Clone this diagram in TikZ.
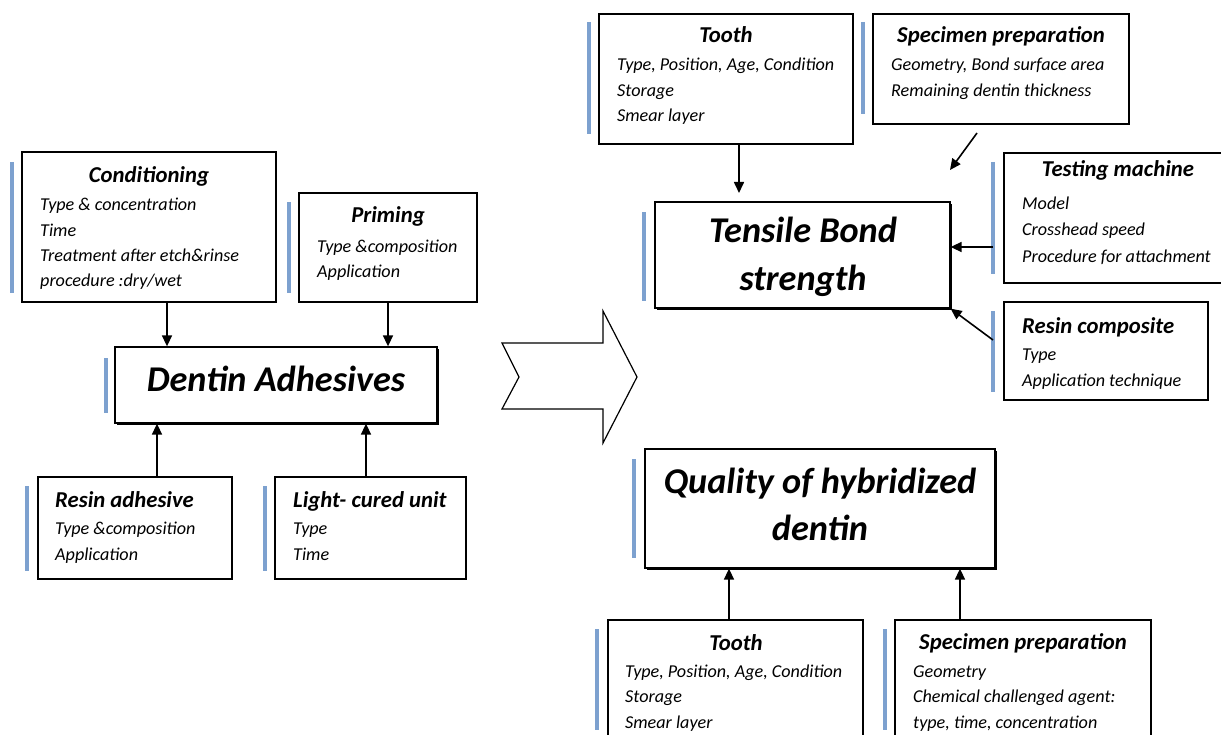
\documentclass[tikz,border=0pt]{standalone}
\usepackage{fontspec}
\setmainfont{Carlito}
\usetikzlibrary{arrows.meta,fit,shadows,calc}
\definecolor{barblue}{HTML}{7DA1CF}
\begin{document}
\begin{tikzpicture}[x=1bp,y=-1bp,
 box/.style={draw, line width=1.1bp, inner sep=0pt, fill=white},
 mainbox/.style={box, line width=1.3bp, drop shadow={shadow xshift=2bp, shadow yshift=-2bp, fill=black, opacity=1}},
 hdr/.style={inner sep=0pt, font=\fontsize{22.8}{27}\selectfont\bfseries\itshape},
 body/.style={inner sep=0pt, font=\fontsize{18.2}{22}\selectfont\itshape},
 ttl/.style={inner sep=0pt, font=\fontsize{36.4}{44}\selectfont\bfseries\itshape},
 bar/.style={draw=barblue, line width=3.5bp},
 arr/.style={line width=1.6bp, -{Triangle[length=11bp,width=10bp]}}]
\useasboundingbox (0,0) rectangle (1221,735);

% ---------------- left part ----------------
\node[box, fit={(22,152) (276,302)}] (cond) {};
\draw[bar] (12,162) -- (12,293);
\node[hdr, anchor=base] (cond-h) at (149,183) {Conditioning};
\foreach \t [count=\i] in {{Type \& concentration},Time,{Treatment after etch\&rinse},{procedure :dry/wet}}
  \node[body, anchor=base west] (cond-\i) at (40,{211+25.3*(\i-1)}) {\t};

\node[box, fit={(299,193) (477,302)}] (prim) {};
\draw[bar] (289,202) -- (289,293);
\node[hdr, anchor=base] (prim-h) at (388,223) {Priming};
\foreach \t [count=\i] in {{Type \&composition},Application}
  \node[body, anchor=base west] (prim-\i) at (317,{252+25.3*(\i-1)}) {\t};

\node[mainbox, fit={(115,347) (437,423)}] (dentin) {};
\draw[bar] (106,358) -- (106,413);
\node[ttl, anchor=base] (dentin-t) at (276,391) {Dentin Adhesives};

\node[box, fit={(38,477) (232,579)}] (resin) {};
\draw[bar] (27,486) -- (27,571);
\node[hdr, anchor=base west] (resin-h) at (55,507) {Resin adhesive};
\foreach \t [count=\i] in {{Type \&composition},Application}
  \node[body, anchor=base west] (resin-\i) at (55,{534+26*(\i-1)}) {\t};

\node[box, fit={(275,477) (466,579)}] (light) {};
\draw[bar] (265,486) -- (265,571);
\node[hdr, anchor=base west] (light-h) at (293,507) {Light- cured unit};
\foreach \t [count=\i] in {Type,Time}
  \node[body, anchor=base west] (light-\i) at (293,{534+26*(\i-1)}) {\t};

\coordinate (xa) at (167,0);
\coordinate (xb) at (388,0);
\coordinate (xc) at (157,0);
\coordinate (xd) at (366,0);
\draw[arr] (xa |- cond.south) -- (xa |- dentin.north);
\draw[arr] (xb |- prim.south) -- (xb |- dentin.north);
\draw[arr] (xc |- resin.north) -- (xc |- dentin.south);
\draw[arr] (xd |- light.north) -- (xd |- dentin.south);

% block arrow
\draw[line width=1.2bp, fill=white, line join=miter]
  (502,343) -- (603,343) -- (603,311) -- (637,377) -- (603,443) -- (603,409) -- (502,409) -- (519,377) -- cycle;

% ---------------- right top ----------------
\node[box, fit={(599,14) (853,144)}] (tooth1) {};
\draw[bar] (589,22) -- (589,134);
\node[hdr, anchor=base] (tooth1-h) at (726,43) {Tooth};
\foreach \t [count=\i] in {{Type, Position, Age, Condition},Storage,{Smear layer}}
  \node[body, anchor=base west] (tooth1-\i) at (617,{71+25.5*(\i-1)}) {\t};

\node[box, fit={(873,14) (1129,124)}] (spec1) {};
\draw[bar] (863,22) -- (863,114);
\node[hdr, anchor=base] (spec1-h) at (1001,43) {Specimen preparation};
\foreach \t [count=\i] in {{Geometry, Bond surface area},{Remaining dentin thickness}}
  \node[body, anchor=base west] (spec1-\i) at (891,{71+26*(\i-1)}) {\t};

\node[mainbox, fit={(655,202) (950,308)}] (tensile) {};
\draw[bar] (644,212) -- (644,301);
\node[ttl, anchor=base] (tensile-t1) at (803,243) {Tensile Bond};
\node[ttl, anchor=base] (tensile-t2) at (803,290) {strength};

\node[box, fit={(1004,153) (1232,283)}] (testing) {};
\draw[bar] (993,162) -- (993,274);
\node[hdr, anchor=base] (testing-h) at (1118,177) {Testing machine};
\foreach \t [count=\i] in {Model,{Crosshead speed},{Procedure for attachment}}
  \node[body, anchor=base west] (testing-\i) at (1022,{210+26*(\i-1)}) {\t};

\node[box, fit={(1004,302) (1208,400)}] (rescomp) {};
\draw[bar] (993,311) -- (993,392);
\node[hdr, anchor=base west] (rescomp-h) at (1022,333) {Resin composite};
\foreach \t [count=\i] in {Type,{Application technique}}
  \node[body, anchor=base west] (rescomp-\i) at (1022,{360+26*(\i-1)}) {\t};

\coordinate (t1end) at (739,193);
\draw[arr] (t1end |- tooth1.south) -- (t1end);
\coordinate (dgs) at (977,133);
\coordinate (dge) at (950,170);
\draw[arr] (dgs) -- (dge);
\coordinate (tms) at (993,247);
\draw[arr] (tms) -- (tms -| tensile.east);
\coordinate (rcs) at (993,340);
\draw[arr] (rcs) -- (tensile.south east);

% ---------------- right bottom ----------------
\node[mainbox, fit={(645,449) (995,568)}] (quality) {};
\draw[bar] (634,459) -- (634,558);
\node[ttl, anchor=base] (quality-t1) at (820,493) {Quality of hybridized};
\node[ttl, anchor=base] (quality-t2) at (820,540) {dentin};

\node[box, fit={(608,620) (863,748)}] (tooth2) {};
\draw[bar] (597,629) -- (597,730);
\node[hdr, anchor=base] (tooth2-h) at (736,650) {Tooth};
\foreach \t [count=\i] in {{Type, Position, Age, Condition},Storage,{Smear layer}}
  \node[body, anchor=base west] (tooth2-\i) at (625,{677+25.5*(\i-1)}) {\t};

\node[box, fit={(895,620) (1151,748)}] (spec2) {};
\draw[bar] (885,629) -- (885,730);
\node[hdr, anchor=base] (spec2-h) at (1023,649) {Specimen preparation};
\foreach \t [count=\i] in {Geometry,{Chemical challenged agent:},{type, time, concentration}}
  \node[body, anchor=base west] (spec2-\i) at (913,{677+25.5*(\i-1)}) {\t};

\coordinate (xe) at (729,0);
\coordinate (xf) at (960,0);
\draw[arr] (xe |- tooth2.north) -- (xe |- quality.south);
\draw[arr] (xf |- spec2.north) -- (xf |- quality.south);
\end{tikzpicture}
\end{document}
